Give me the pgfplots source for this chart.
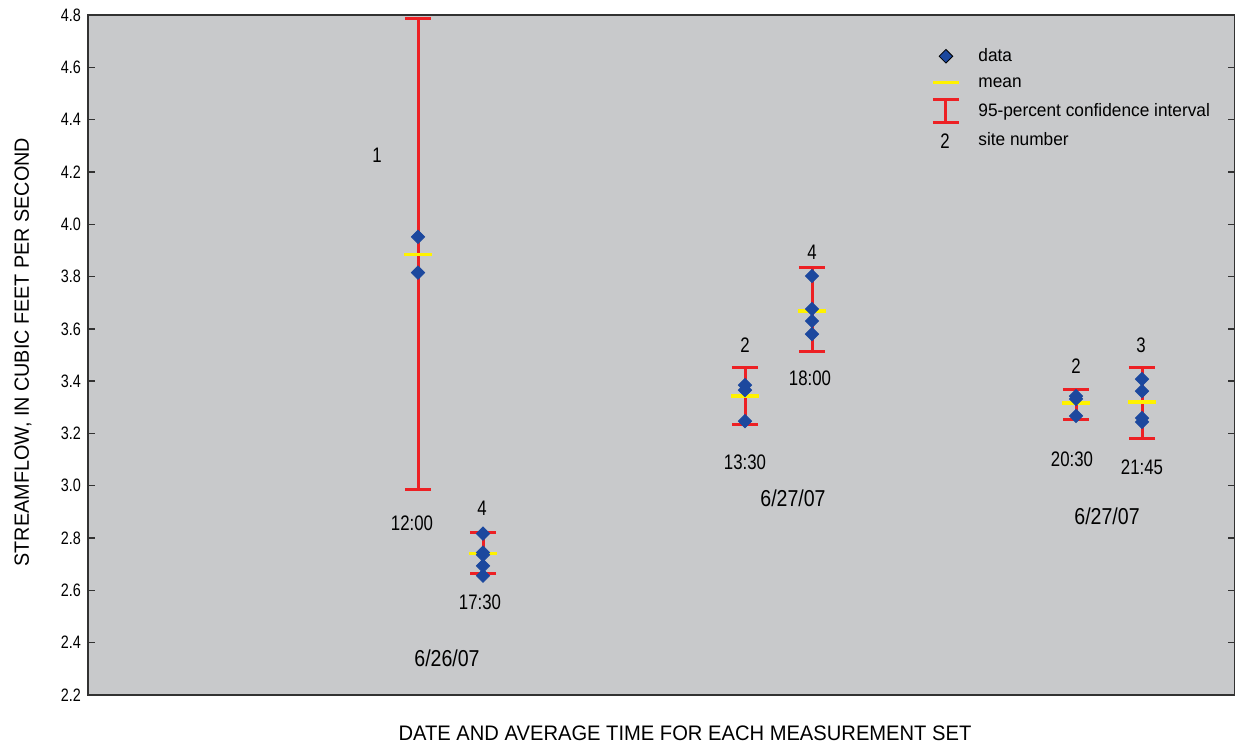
\documentclass[border=0pt]{standalone}
\usepackage{pgfplots}
\pgfplotsset{compat=1.18}
\usepackage{pgfplotstable}
\usepackage{fontspec}
\setmainfont{Liberation Sans}[FakeStretch=0.8]
\newfontfamily\labfont{Liberation Sans}[FakeStretch=0.96]
\newfontfamily\datefont{Liberation Sans}[FakeStretch=0.85]
\definecolor{bggray}{RGB}{200,201,203}
\definecolor{datablue}{RGB}{28,72,158}
\definecolor{cired}{RGB}{237,32,36}
\definecolor{meanyel}{RGB}{255,242,0}
\definecolor{axgray}{RGB}{50,50,50}

\pgfplotstableread{
x y ep em
330 3.885 0.900 0.900
395 2.742 0.078 0.077
657 3.343 0.111 0.107
724 3.668 0.165 0.153
988 3.316 0.054 0.061
1054 3.320 0.134 0.138
}\ci

\pgfplotstableread{
x y
330 3.952
330 3.815
395 2.817
395 2.745
395 2.736
395 2.694
395 2.656
657 3.385
657 3.366
657 3.247
724 3.802
724 3.676
724 3.630
724 3.580
988 3.343
988 3.332
988 3.267
1054 3.408
1054 3.362
1054 3.259
1054 3.244
}\pts

\begin{document}
\begin{tikzpicture}
\begin{axis}[
  at={(0,0)}, anchor=south west,
  scale only axis, width=573.5pt, height=340pt,
  xmin=0, xmax=1147, ymin=2.2, ymax=4.8,
  xtick=\empty,
  ytick={2.2,2.4,2.6,2.8,3.0,3.2,3.4,3.6,3.8,4.0,4.2,4.4,4.6,4.8},
  ytick pos=both, yticklabel pos=left,
  tick align=inside, major tick length=3.7pt,
  tick style={axgray, line width=0.7pt},
  axis line style={axgray, line width=0.8pt},
  axis background/.style={fill=bggray},
  yticklabel style={font=\fontsize{9}{10}\selectfont, /pgf/number format/.cd, fixed, fixed zerofill, precision=1, assume math mode=true},
  clip=false,
  legend style={at={(axis cs:843,4.686)}, anchor=north west, draw=none, fill=none,
    inner sep=0pt, row sep=2.3pt, column sep=8pt,
    font=\labfont\fontsize{9}{11}\selectfont,
    nodes={inner sep=1pt, text height=7pt, text depth=2pt}},
  legend cell align=left,
]
\addlegendimage{legend image code/.code={\path[fill=datablue] (6.5pt,3.4pt)--(9.9pt,0pt)--(6.5pt,-3.4pt)--(3.1pt,0pt)--cycle;}}
\addlegendentry{data}
\addlegendimage{legend image code/.code={\draw[meanyel,line width=1.4pt] (0pt,0pt)--(13pt,0pt);}}
\addlegendentry{mean}
\addlegendimage{legend image code/.code={\draw[cired,line width=1.5pt] (0pt,-5.75pt)--(13pt,-5.75pt) (6.5pt,-5.75pt)--(6.5pt,5.75pt) (0pt,5.75pt)--(13pt,5.75pt);}}
\addlegendentry{95-percent confidence interval}
\addlegendimage{legend image code/.code={\node[inner sep=0pt, font=\fontsize{10.5}{12}\selectfont] at (3.5pt,-1.5pt) {2};}}
\addlegendentry{site number}

\addplot[draw=none, mark=none, forget plot,
  error bars/.cd, y dir=both, y explicit,
  error bar style={draw=cired, line width=1.5pt},
  error mark options={draw=cired, line width=1.5pt, mark size=6.6pt, rotate=90}]
  table[x=x, y=y, y error plus=ep, y error minus=em]{\ci};
\addplot[only marks, mark=-, mark size=6.8pt, forget plot,
  mark options={draw=meanyel, line width=1.7pt}]
  table[x=x, y=y]{\ci};
\addplot[only marks, mark=square*, mark size=2.35pt, forget plot,
  mark options={datablue, fill=datablue, rotate=45, draw=none}]
  table[x=x, y=y]{\pts};

\begin{scope}[every node/.style={font=\fontsize{10.5}{12}\selectfont, inner sep=0pt}]
\node at (axis cs:289,4.265) {1};
\node at (axis cs:324,2.857) {12:00};
\node at (axis cs:394,2.915) {4};
\node at (axis cs:392,2.553) {17:30};
\node[font=\datefont\fontsize{11.5}{13}\selectfont] at (axis cs:359,2.342) {6/26/07};
\node at (axis cs:657,3.538) {2};
\node at (axis cs:657,3.091) {13:30};
\node at (axis cs:724,3.894) {4};
\node at (axis cs:722,3.411) {18:00};
\node[font=\datefont\fontsize{11.5}{13}\selectfont] at (axis cs:705,2.953) {6/27/07};
\node at (axis cs:988,3.458) {2};
\node at (axis cs:1053,3.538) {3};
\node at (axis cs:984,3.101) {20:30};
\node at (axis cs:1054,3.070) {21:45};
\node[font=\datefont\fontsize{11.5}{13}\selectfont] at (axis cs:1019,2.884) {6/27/07};
\node[font=\labfont\fontsize{10.5}{12}\selectfont] at (axis cs:597,2.054) {DATE AND AVERAGE TIME FOR EACH MEASUREMENT SET};
\node[font=\labfont\fontsize{10.3}{12}\selectfont, rotate=90] at (axis cs:-65,3.511) {STREAMFLOW, IN CUBIC FEET PER SECOND};
\end{scope}
\end{axis}
\pgfresetboundingbox
\path (-44pt,-25.5pt) rectangle (573.5pt,347.5pt);
\end{tikzpicture}
\end{document}
